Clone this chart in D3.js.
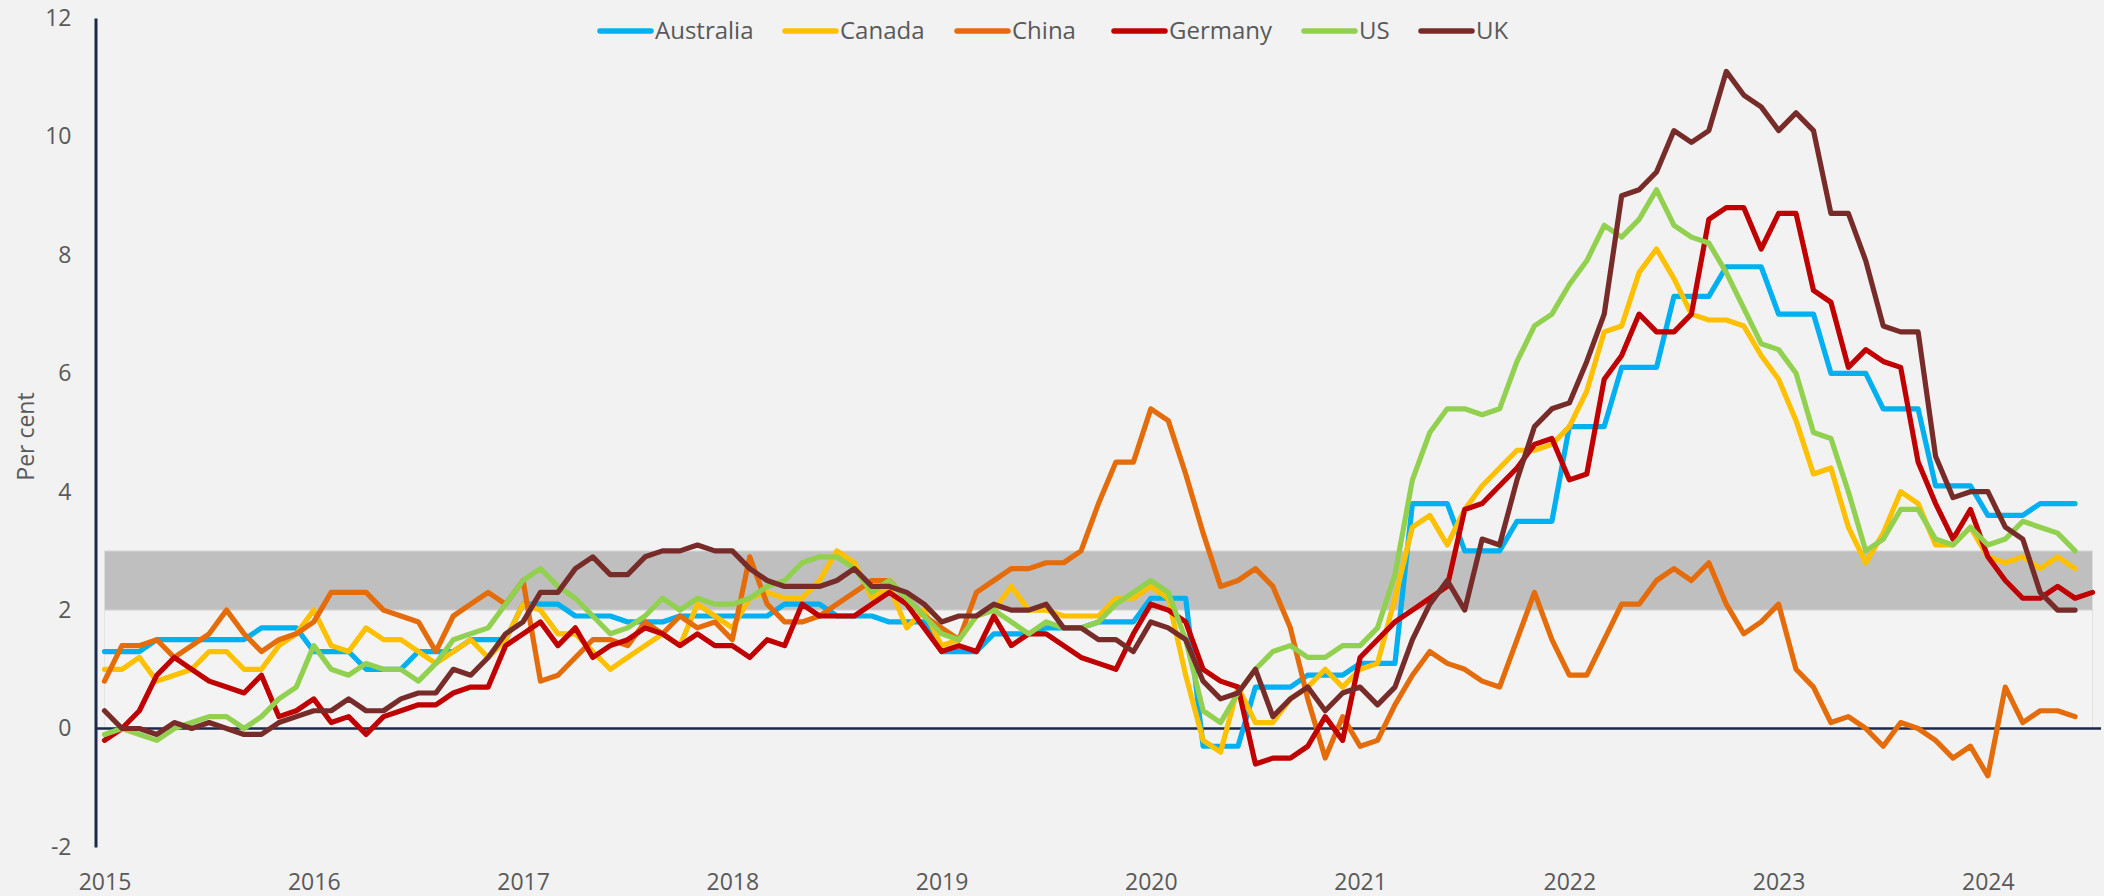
<!DOCTYPE html>
<html>
<head>
<meta charset="utf-8">
<script src="https://cdn.jsdelivr.net/npm/d3@7"></script>
<style>
  html, body { margin: 0; padding: 0; background: #f1f2f1; }
  svg { display: block; }
  text { font-family: "Open Sans", "Noto Sans", sans-serif; fill: #595959; }
</style>
</head>
<body>
<div id="chart"></div>
<script>
// ---------------- DATA ----------------
const startYear = 2015;
const yearLabels = ["2015","2016","2017","2018","2019","2020","2021","2022","2023","2024"];
const yTicks = [-2, 0, 2, 4, 6, 8, 10, 12];
const seriesNames = ["Australia", "Canada", "China", "Germany", "US", "UK"];
const seriesColors = ["#00b0f0", "#ffc000", "#e46c0a", "#c00000", "#92d050", "#772c2a"];
const targetBand = [2, 3];

const australia = [
  1.3,1.3,1.3,1.5,1.5,1.5,1.5,1.5,1.5,1.7,1.7,1.7,
  1.3,1.3,1.3,1.0,1.0,1.0,1.3,1.3,1.3,1.5,1.5,1.5,
  2.1,2.1,2.1,1.9,1.9,1.9,1.8,1.8,1.8,1.9,1.9,1.9,
  1.9,1.9,1.9,2.1,2.1,2.1,1.9,1.9,1.9,1.8,1.8,1.8,
  1.3,1.3,1.3,1.6,1.6,1.6,1.7,1.7,1.7,1.8,1.8,1.8,
  2.2,2.2,2.2,-0.3,-0.3,-0.3,0.7,0.7,0.7,0.9,0.9,0.9,
  1.1,1.1,1.1,3.8,3.8,3.8,3.0,3.0,3.0,3.5,3.5,3.5,
  5.1,5.1,5.1,6.1,6.1,6.1,7.3,7.3,7.3,7.8,7.8,7.8,
  7.0,7.0,7.0,6.0,6.0,6.0,5.4,5.4,5.4,4.1,4.1,4.1,
  3.6,3.6,3.6,3.8,3.8,3.8
];
const canada = [
  1.0,1.0,1.2,0.8,0.9,1.0,1.3,1.3,1.0,1.0,1.4,1.6,
  2.0,1.4,1.3,1.7,1.5,1.5,1.3,1.1,1.3,1.5,1.2,1.5,
  2.1,2.0,1.6,1.6,1.3,1.0,1.2,1.4,1.6,1.4,2.1,1.9,
  1.7,2.2,2.3,2.2,2.2,2.5,3.0,2.8,2.2,2.4,1.7,2.0,
  1.4,1.5,1.9,2.0,2.4,2.0,2.0,1.9,1.9,1.9,2.2,2.2,
  2.4,2.2,0.9,-0.2,-0.4,0.7,0.1,0.1,0.5,0.7,1.0,0.7,
  1.0,1.1,2.2,3.4,3.6,3.1,3.7,4.1,4.4,4.7,4.7,4.8,
  5.1,5.7,6.7,6.8,7.7,8.1,7.6,7.0,6.9,6.9,6.8,6.3,
  5.9,5.2,4.3,4.4,3.4,2.8,3.3,4.0,3.8,3.1,3.1,3.4,
  2.9,2.8,2.9,2.7,2.9,2.7
];
const china = [
  0.8,1.4,1.4,1.5,1.2,1.4,1.6,2.0,1.6,1.3,1.5,1.6,
  1.8,2.3,2.3,2.3,2.0,1.9,1.8,1.3,1.9,2.1,2.3,2.1,
  2.5,0.8,0.9,1.2,1.5,1.5,1.4,1.8,1.6,1.9,1.7,1.8,
  1.5,2.9,2.1,1.8,1.8,1.9,2.1,2.3,2.5,2.5,2.2,1.9,
  1.7,1.5,2.3,2.5,2.7,2.7,2.8,2.8,3.0,3.8,4.5,4.5,
  5.4,5.2,4.3,3.3,2.4,2.5,2.7,2.4,1.7,0.5,-0.5,0.2,
  -0.3,-0.2,0.4,0.9,1.3,1.1,1.0,0.8,0.7,1.5,2.3,1.5,
  0.9,0.9,1.5,2.1,2.1,2.5,2.7,2.5,2.8,2.1,1.6,1.8,
  2.1,1.0,0.7,0.1,0.2,0.0,-0.3,0.1,0.0,-0.2,-0.5,-0.3,
  -0.8,0.7,0.1,0.3,0.3,0.2
];
const germany = [
  -0.2,0.0,0.3,0.9,1.2,1.0,0.8,0.7,0.6,0.9,0.2,0.3,
  0.5,0.1,0.2,-0.1,0.2,0.3,0.4,0.4,0.6,0.7,0.7,1.4,
  1.6,1.8,1.4,1.7,1.2,1.4,1.5,1.7,1.6,1.4,1.6,1.4,
  1.4,1.2,1.5,1.4,2.1,1.9,1.9,1.9,2.1,2.3,2.1,1.7,
  1.3,1.4,1.3,1.9,1.4,1.6,1.6,1.4,1.2,1.1,1.0,1.6,
  2.1,2.0,1.8,1.0,0.8,0.7,-0.6,-0.5,-0.5,-0.3,0.2,-0.2,
  1.2,1.5,1.8,2.0,2.2,2.4,3.7,3.8,4.1,4.4,4.8,4.9,
  4.2,4.3,5.9,6.3,7.0,6.7,6.7,7.0,8.6,8.8,8.8,8.1,
  8.7,8.7,7.4,7.2,6.1,6.4,6.2,6.1,4.5,3.8,3.2,3.7,
  2.9,2.5,2.2,2.2,2.4,2.2,2.3
];
const us = [
  -0.1,0.0,-0.1,-0.2,0.0,0.1,0.2,0.2,0.0,0.2,0.5,0.7,
  1.4,1.0,0.9,1.1,1.0,1.0,0.8,1.1,1.5,1.6,1.7,2.1,
  2.5,2.7,2.4,2.2,1.9,1.6,1.7,1.9,2.2,2.0,2.2,2.1,
  2.1,2.2,2.4,2.5,2.8,2.9,2.9,2.7,2.3,2.5,2.2,1.9,
  1.6,1.5,1.9,2.0,1.8,1.6,1.8,1.7,1.7,1.8,2.1,2.3,
  2.5,2.3,1.5,0.3,0.1,0.6,1.0,1.3,1.4,1.2,1.2,1.4,
  1.4,1.7,2.6,4.2,5.0,5.4,5.4,5.3,5.4,6.2,6.8,7.0,
  7.5,7.9,8.5,8.3,8.6,9.1,8.5,8.3,8.2,7.7,7.1,6.5,
  6.4,6.0,5.0,4.9,4.0,3.0,3.2,3.7,3.7,3.2,3.1,3.4,
  3.1,3.2,3.5,3.4,3.3,3.0
];
const uk = [
  0.3,0.0,0.0,-0.1,0.1,0.0,0.1,0.0,-0.1,-0.1,0.1,0.2,
  0.3,0.3,0.5,0.3,0.3,0.5,0.6,0.6,1.0,0.9,1.2,1.6,
  1.8,2.3,2.3,2.7,2.9,2.6,2.6,2.9,3.0,3.0,3.1,3.0,
  3.0,2.7,2.5,2.4,2.4,2.4,2.5,2.7,2.4,2.4,2.3,2.1,
  1.8,1.9,1.9,2.1,2.0,2.0,2.1,1.7,1.7,1.5,1.5,1.3,
  1.8,1.7,1.5,0.8,0.5,0.6,1.0,0.2,0.5,0.7,0.3,0.6,
  0.7,0.4,0.7,1.5,2.1,2.5,2.0,3.2,3.1,4.2,5.1,5.4,
  5.5,6.2,7.0,9.0,9.1,9.4,10.1,9.9,10.1,11.1,10.7,10.5,
  10.1,10.4,10.1,8.7,8.7,7.9,6.8,6.7,6.7,4.6,3.9,4.0,
  4.0,3.4,3.2,2.3,2.0,2.0
];
const seriesValues = [australia, canada, china, germany, us, uk];

// ---------------- CHART ----------------
const W = 2104, H = 896;
const nMonths = d3.max(seriesValues, s => s.length); // Jan 2015 .. Jul 2024

const x = d3.scaleLinear().domain([0, nMonths - 1]).range([104.5, 2092.5]);
const y = d3.scaleLinear().domain([-2, 12]).range([846.9, 18.1]);

const svg = d3.select("#chart").append("svg")
  .attr("width", W).attr("height", H)
  .style("background", "#f1f2f1");

// target band: lower part 0..2 (subtle), upper 2..3 grey
svg.append("rect")
  .attr("x", x(0)).attr("width", x(nMonths - 1) - x(0))
  .attr("y", y(targetBand[0])).attr("height", y(0) - y(targetBand[0]))
  .attr("fill", "#f2f3f2").attr("stroke", "#e3e4e3").attr("stroke-width", 1);
svg.append("rect")
  .attr("x", x(0)).attr("width", x(nMonths - 1) - x(0))
  .attr("y", y(targetBand[1])).attr("height", y(targetBand[0]) - y(targetBand[1]))
  .attr("fill", "#bfbfbf").attr("stroke", "#dcdcdc").attr("stroke-width", 1);

// zero line
svg.append("line")
  .attr("x1", 95).attr("x2", 2101)
  .attr("y1", y(0)).attr("y2", y(0))
  .attr("stroke", "#1b2a4a").attr("stroke-width", 2.5);

// y axis
const yAxis = d3.axisLeft(y).tickValues(yTicks).tickSize(0).tickPadding(24)
  .tickFormat(d => d3.format("d")(d).replace("−", "-"));
const gy = svg.append("g").attr("transform", "translate(95.5,0)").call(yAxis);
gy.select(".domain").attr("stroke", "#1b2a4a").attr("stroke-width", 3);
gy.selectAll("text").attr("font-size", 23).attr("fill", "#595959")
  .style("font-family", '"Open Sans", sans-serif');

// x axis labels (year ticks at January)
const xAxis = d3.axisBottom(x)
  .tickValues(yearLabels.map((_, i) => i * 12))
  .tickSize(0).tickPadding(0)
  .tickFormat((d, i) => yearLabels[i]);
const gx = svg.append("g").attr("transform", "translate(0,874)").call(xAxis);
gx.select(".domain").remove();
gx.selectAll("text").attr("font-size", 23).attr("fill", "#595959")
  .attr("dy", "0.71em")
  .style("font-family", '"Open Sans", sans-serif');

// y axis title
svg.append("text")
  .attr("transform", `translate(34,${(y(12) + y(-2)) / 2 + 4}) rotate(-90)`)
  .attr("text-anchor", "middle")
  .attr("font-size", 23)
  .text("Per cent");

// lines
const line = d3.line()
  .defined(d => d != null)
  .x((d, i) => x(i))
  .y(d => y(d));

svg.append("g").selectAll("path")
  .data(seriesValues)
  .join("path")
  .attr("d", d => line(d))
  .attr("fill", "none")
  .attr("stroke", (d, i) => seriesColors[i])
  .attr("stroke-width", 5.2)
  .attr("stroke-linejoin", "round")
  .attr("stroke-linecap", "round");

// legend
const legendX = [598, 783, 955, 1112, 1302, 1419];
const lg = svg.append("g").attr("transform", "translate(0,31)");
seriesNames.forEach((name, i) => {
  const g = lg.append("g").attr("transform", `translate(${legendX[i]},0)`);
  g.append("line").attr("x1", 2).attr("x2", 53)
    .attr("stroke", seriesColors[i]).attr("stroke-width", 5.5)
    .attr("stroke-linecap", "round");
  g.append("text").attr("x", 57).attr("dy", "0.35em")
    .attr("font-size", 24).text(name);
});
</script>
</body>
</html>
